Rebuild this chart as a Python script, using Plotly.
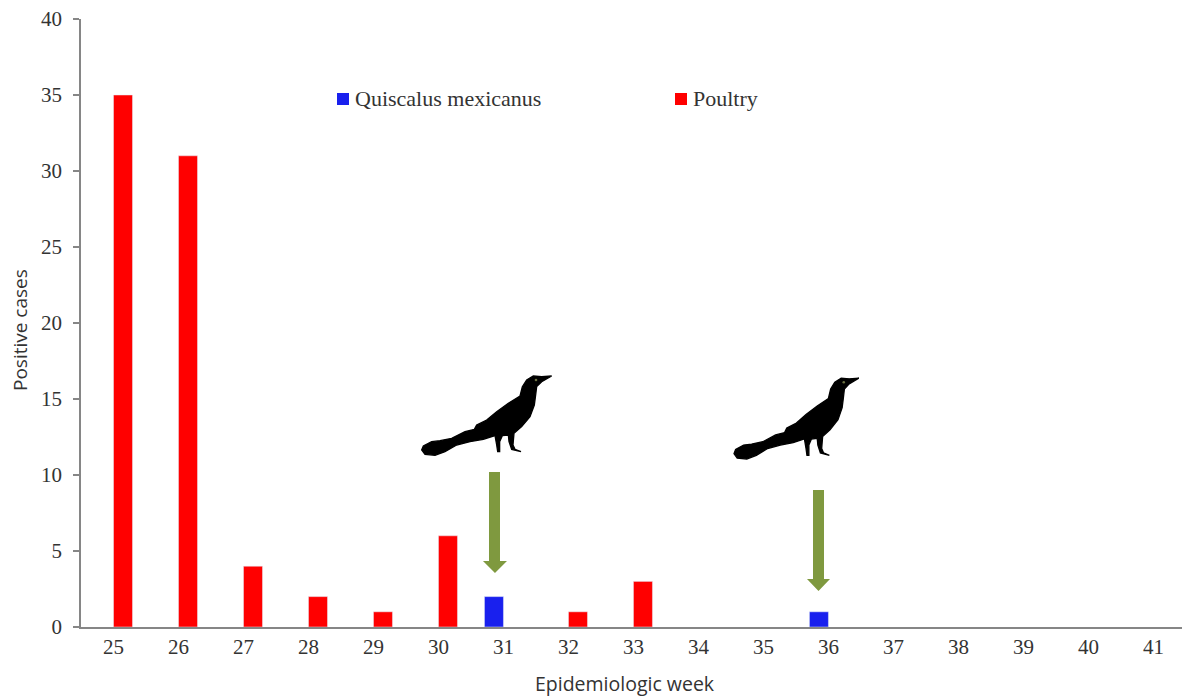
import plotly.graph_objects as go

weeks = list(range(25, 42))
poultry = [35, 31, 4, 2, 1, 6, None, 1, 3, None, None, None, None, None, None, None, None]
quiscalus = [None, None, None, None, None, None, 2, None, None, None, None, 1, None, None, None, None, None]
y_ticks = [0, 5, 10, 15, 20, 25, 30, 35, 40]

W, H = 1182, 696
L, T, B = 81, 19, 69
SERIF = "Liberation Serif, serif"
SANS = "Open Sans, sans-serif"
INK = "#333333"
AXIS = "#868686"
BLUE = "#1920EE"
RED = "#FF0000"

# Decorative bird silhouette outline, in 1/3 pixels relative to its own box
BIRD = [(410,18),(380,20),(355,18),(335,30),(322,50),(315,78),(280,100),(245,125),(215,150),
        (185,165),(178,178),(150,185),(110,205),(75,212),(50,215),(25,228),(20,240),(30,253),
        (60,256),(90,245),(125,225),(165,215),(205,208),(240,197),(245,225),(248,245),(254,245),
        (254,215),(262,197),(280,195),(282,215),(290,238),(318,245),(300,238),(294,225),(297,190),
        (320,170),(345,140),(358,105),(362,75),(365,50),(380,35)]
EYE = (363, 30)


def px(x, y):
    return (x - L) / (W - L), 1 - (y - T) / (H - T - B)


def path(points):
    out = []
    for i, (x, y) in enumerate(points):
        fx, fy = px(x, y)
        out.append(f"{'M' if i == 0 else 'L'}{fx:.5f},{fy:.5f}")
    return " ".join(out) + " Z"


def bird(ox, oy, sx, sy):
    pts = [(ox + X / 3 * sx, oy + Y / 3 * sy) for X, Y in BIRD]
    return dict(type="path", xref="paper", yref="paper", layer="above", path=path(pts),
                fillcolor="black", line=dict(color="black", width=1.3))


def eye(ox, oy, sx, sy):
    cx, cy = ox + EYE[0] / 3 * sx, oy + EYE[1] / 3 * sy
    x0, y0 = px(cx - 1.3, cy - 1.3)
    x1, y1 = px(cx + 1.3, cy + 1.3)
    return dict(type="circle", xref="paper", yref="paper", layer="above",
                x0=x0, y0=y0, x1=x1, y1=y1, fillcolor="#6B7040", line=dict(width=0))


def arrow(x0, x1, hx0, hx1, top, neck, tip):
    mid = (hx0 + hx1) / 2
    pts = [(x0, top), (x1, top), (x1, neck), (hx1, neck), (mid, tip), (hx0, neck), (x0, neck)]
    return dict(type="path", xref="paper", yref="paper", path=path(pts),
                fillcolor="#7F993F", line=dict(width=0))


def swatch(x, color):
    return dict(type="path", xref="paper", yref="paper",
                path=path([(x, 93), (x + 12, 93), (x + 12, 105), (x, 105)]),
                fillcolor=color, line=dict(width=0))


def label(text, x, y, font, size, anchor="center", angle=0):
    fx, fy = px(x, y)
    return dict(text=text, xref="paper", yref="paper", x=fx, y=fy, showarrow=False,
                textangle=angle, xanchor=anchor, yanchor="middle",
                font=dict(family=font, size=size, color=INK))


BIRD1 = (415, 370, 1.0, 1.0)
BIRD2 = (727.6, 372, 0.96, 1.02)

fig = go.Figure()
fig.add_bar(x=weeks, y=quiscalus, name="Quiscalus mexicanus", marker_color=BLUE)
fig.add_bar(x=weeks, y=poultry, name="Poultry", marker_color=RED)

fig.update_layout(
    width=W, height=H, barmode="group", bargap=0.415, bargroupgap=0, showlegend=False,
    margin=dict(l=L, r=0, t=T, b=B, autoexpand=False),
    plot_bgcolor="white", paper_bgcolor="white",
    font=dict(family=SERIF, size=21, color=INK),
    xaxis=dict(range=[24.5, 41.44], tickmode="array", tickvals=weeks, ticktext=[str(w) for w in weeks],
               ticks="", showgrid=False, zeroline=False, showline=True, linecolor=AXIS, linewidth=1.5,
               tickfont=dict(family=SERIF, size=21, color=INK)),
    yaxis=dict(range=[0, 40], tickmode="array", tickvals=y_ticks, ticks="outside", ticklen=6,
               ticklabelstandoff=7, tickcolor=AXIS, tickwidth=1.5, showgrid=False, zeroline=False,
               showline=True, linecolor=AXIS, linewidth=1.5, tickfont=dict(family=SERIF, size=21, color=INK)),
    shapes=[
        bird(*BIRD1), eye(*BIRD1),
        bird(*BIRD2), eye(*BIRD2),
        arrow(489, 500, 483, 507, 472, 561, 573),
        arrow(813, 824, 807, 830, 490, 579, 591),
        swatch(337, BLUE),
        swatch(675, RED),
    ],
    annotations=[
        label("Quiscalus mexicanus", 353, 98, SERIF, 22, "left"),
        label("Poultry", 691, 98, SERIF, 22, "left"),
        label("Epidemiologic week", 625, 683, SANS, 19.5),
        label("Positive cases", 20, 330, SANS, 19, "center", -90),
    ],
)

fig.write_html("out.html", config=dict(displayModeBar=False),
               post_script="document.body.style.margin='0';")
